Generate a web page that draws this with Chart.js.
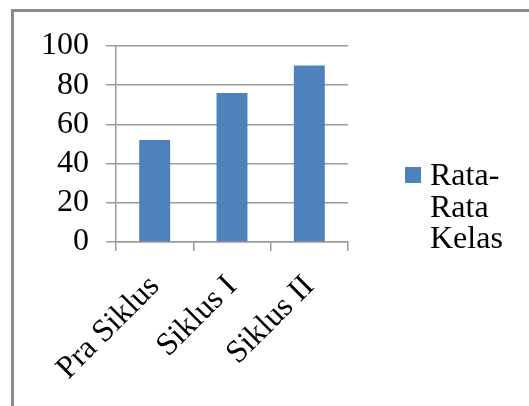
<!DOCTYPE html>
<html>
<head>
<meta charset="utf-8">
<script src="https://cdn.jsdelivr.net/npm/chart.js@4"></script>
<style>
  html, body { margin: 0; padding: 0; background: #fff; }
  #wrap { width: 529px; height: 406px; }
</style>
</head>
<body>
<div id="wrap"><canvas id="chart" width="529" height="406"></canvas></div>
<script>
// Class averages per cycle
const categories = ['Pra Siklus', 'Siklus I', 'Siklus II'];
const averages = [52, 76, 90];
const seriesName = 'Rata-Rata Kelas';
const yTicks = [0, 20, 40, 60, 80, 100];

const SERIF = "'Liberation Serif', 'Times New Roman', serif";
const BAR_BLUE = '#4f81bd';
const GRID_GREY = '#9a9a9a';

// Outer frame around the chart object
const framePlugin = {
  id: 'frame',
  beforeDraw(chart) {
    const ctx = chart.ctx;
    ctx.save();
    ctx.fillStyle = '#ffffff';
    ctx.fillRect(0, 0, chart.width, chart.height);
    ctx.strokeStyle = '#8c8c8c';
    ctx.lineWidth = 3;
    ctx.strokeRect(12.5, 10.5, chart.width + 20, chart.height + 20);
    ctx.restore();
  }
};

// Break a legend label after hyphens and spaces
function wrapLabel(text) {
  return text.replace(/-/g, '-\n').split(/\n| /).filter(s => s.length);
}

// Legend on the right: coloured square plus wrapped series name
const sideLegendPlugin = {
  id: 'sideLegend',
  afterDraw(chart) {
    const ctx = chart.ctx;
    const area = chart.chartArea;
    ctx.save();
    chart.data.datasets.forEach(ds => {
      const boxX = area.right + 57;
      const boxY = 167;
      ctx.fillStyle = ds.backgroundColor;
      ctx.fillRect(boxX, boxY, 16, 16);
      ctx.fillStyle = '#000';
      ctx.font = '32px ' + SERIF;
      ctx.textAlign = 'left';
      ctx.textBaseline = 'alphabetic';
      wrapLabel(ds.label).forEach((line, i) => {
        ctx.fillText(line, boxX + 25, 185 + i * 31.5);
      });
    });
    ctx.restore();
  }
};

new Chart(document.getElementById('chart'), {
  type: 'bar',
  data: {
    labels: categories,
    datasets: [{
      label: seriesName,
      data: averages,
      backgroundColor: BAR_BLUE,
      borderWidth: 0,
      barPercentage: 0.4,
      categoryPercentage: 1.0
    }]
  },
  options: {
    responsive: false,
    animation: false,
    devicePixelRatio: 1,
    layout: { padding: { left: 0, top: 46, right: 181, bottom: 0 } },
    plugins: {
      legend: { display: false },
      tooltip: { enabled: false },
      title: { display: false }
    },
    scales: {
      x: {
        offset: true,
        afterFit(scale) { scale.height = 164; },
        grid: {
          offset: true,
          drawOnChartArea: false,
          drawTicks: true,
          tickLength: 9,
          color: GRID_GREY,
          lineWidth: 1.5
        },
        border: { display: true, color: GRID_GREY, width: 1.5 },
        ticks: {
          minRotation: 45,
          maxRotation: 45,
          autoSkip: false,
          padding: 17,
          color: '#000',
          font: { family: SERIF, size: 32 }
        }
      },
      y: {
        min: 0,
        max: 100,
        afterFit(scale) { scale.width = 116; },
        afterBuildTicks(scale) { scale.ticks = yTicks.map(v => ({ value: v })); },
        grid: {
          drawTicks: true,
          tickLength: 10,
          color: GRID_GREY,
          lineWidth: 1.5
        },
        border: { display: true, color: GRID_GREY, width: 1.5 },
        ticks: {
          autoSkip: false,
          padding: 17,
          color: '#000',
          font: { family: SERIF, size: 32 }
        }
      }
    }
  },
  plugins: [framePlugin, sideLegendPlugin]
});
</script>
</body>
</html>
